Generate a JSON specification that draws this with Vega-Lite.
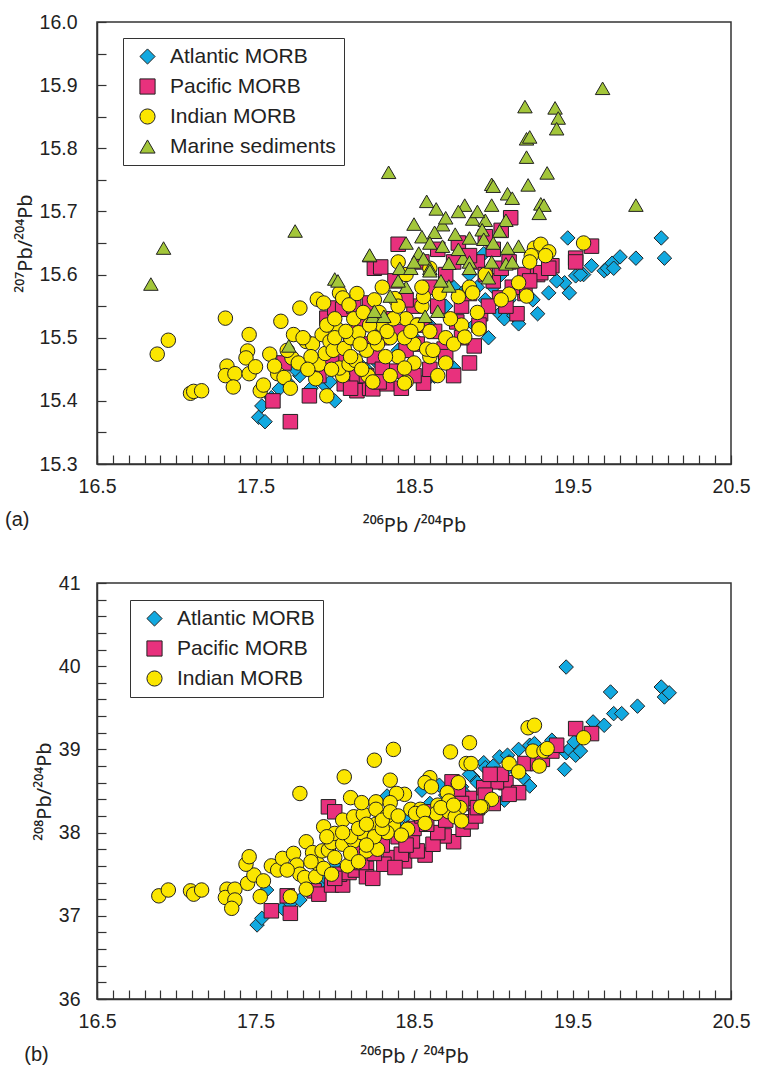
{
"$schema": "https://vega.github.io/schema/vega-lite/v6.json",
"padding": {"left": 4, "top": 11, "right": 5, "bottom": 3},
"config": {
  "font": "Liberation Sans",
  "view": {"stroke": "#333", "strokeWidth": 1.5},
  "axis": {"domainColor": "#333", "domainWidth": 1.5, "tickColor": "#333", "tickWidth": 1.2, "ticks": true, "tickSize": -9, "labelColor": "#222", "titleColor": "#222", "labelFontSize": 19.5, "titleFontSize": 20, "titleFont": "Noto Sans", "titleFontWeight": "normal", "grid": false, "labelOverlap": false, "labelBound": false, "labelFlush": false},
  "legend": {"strokeColor": "#333", "fillColor": "white", "padding": 8, "symbolSize": 230, "labelFontSize": 21, "labelColor": "#222", "labelLimit": 400, "rowPadding": 8, "symbolStrokeColor": "#222", "symbolStrokeWidth": 1, "symbolOpacity": 1, "labelOffset": 12, "symbolOffset": 6}
},
"spacing": 35,
"resolve": {"scale": {"color": "independent", "shape": "independent"}},
"datasets": {
"a": [
{"group":"Atlantic MORB","x":17.52,"y":15.374},{"group":"Atlantic MORB","x":17.56,"y":15.367},{"group":"Atlantic MORB","x":17.54,"y":15.392},{"group":"Atlantic MORB","x":17.65,"y":15.419},{"group":"Atlantic MORB","x":17.6,"y":15.405},{"group":"Atlantic MORB","x":17.7,"y":15.43},{"group":"Atlantic MORB","x":17.78,"y":15.44},{"group":"Atlantic MORB","x":17.85,"y":15.42},{"group":"Atlantic MORB","x":17.94,"y":15.424},{"group":"Atlantic MORB","x":17.97,"y":15.43},{"group":"Atlantic MORB","x":18.0,"y":15.40},{"group":"Atlantic MORB","x":18.05,"y":15.44},{"group":"Atlantic MORB","x":18.12,"y":15.43},{"group":"Atlantic MORB","x":18.2,"y":15.45},{"group":"Atlantic MORB","x":18.27,"y":15.46},{"group":"Atlantic MORB","x":18.33,"y":15.47},{"group":"Atlantic MORB","x":18.4,"y":15.48},{"group":"Atlantic MORB","x":18.5,"y":15.5},{"group":"Atlantic MORB","x":18.57,"y":15.43},{"group":"Atlantic MORB","x":18.63,"y":15.439},{"group":"Atlantic MORB","x":18.75,"y":15.452},{"group":"Atlantic MORB","x":18.6,"y":15.52},{"group":"Atlantic MORB","x":18.7,"y":15.55},{"group":"Atlantic MORB","x":18.8,"y":15.57},{"group":"Atlantic MORB","x":18.85,"y":15.6},{"group":"Atlantic MORB","x":18.9,"y":15.58},{"group":"Atlantic MORB","x":18.94,"y":15.633},{"group":"Atlantic MORB","x":18.97,"y":15.50},{"group":"Atlantic MORB","x":19.0,"y":15.58},{"group":"Atlantic MORB","x":19.04,"y":15.538},{"group":"Atlantic MORB","x":19.07,"y":15.53},{"group":"Atlantic MORB","x":19.1,"y":15.56},{"group":"Atlantic MORB","x":19.13,"y":15.535},{"group":"Atlantic MORB","x":19.16,"y":15.522},{"group":"Atlantic MORB","x":19.2,"y":15.58},{"group":"Atlantic MORB","x":19.28,"y":15.538},{"group":"Atlantic MORB","x":19.3,"y":15.6},{"group":"Atlantic MORB","x":19.35,"y":15.571},{"group":"Atlantic MORB","x":19.45,"y":15.587},{"group":"Atlantic MORB","x":19.48,"y":15.571},{"group":"Atlantic MORB","x":19.47,"y":15.658},{"group":"Atlantic MORB","x":19.52,"y":15.598},{"group":"Atlantic MORB","x":19.57,"y":15.60},{"group":"Atlantic MORB","x":19.62,"y":15.614},{"group":"Atlantic MORB","x":19.70,"y":15.606},{"group":"Atlantic MORB","x":19.72,"y":15.61},{"group":"Atlantic MORB","x":19.75,"y":15.618},{"group":"Atlantic MORB","x":19.76,"y":15.61},{"group":"Atlantic MORB","x":19.80,"y":15.628},{"group":"Atlantic MORB","x":19.90,"y":15.626},{"group":"Atlantic MORB","x":20.06,"y":15.658},{"group":"Atlantic MORB","x":20.08,"y":15.626},{"group":"Atlantic MORB","x":19.4,"y":15.59},{"group":"Atlantic MORB","x":19.25,"y":15.56},{"group":"Atlantic MORB","x":18.95,"y":15.56},{"group":"Atlantic MORB","x":18.75,"y":15.58},{"group":"Atlantic MORB","x":18.88,"y":15.52},{"group":"Atlantic MORB","x":19.05,"y":15.6},{"group":"Atlantic MORB","x":19.55,"y":15.6},{"group":"Atlantic MORB","x":18.45,"y":15.45},{"group":"Atlantic MORB","x":18.15,"y":15.46},{"group":"Atlantic MORB","x":17.75,"y":15.45},{"group":"Atlantic MORB","x":18.35,"y":15.44},
{"group":"Pacific MORB","x":17.61,"y":15.40},{"group":"Pacific MORB","x":17.72,"y":15.367},{"group":"Pacific MORB","x":17.84,"y":15.408},{"group":"Pacific MORB","x":17.68,"y":15.46},{"group":"Pacific MORB","x":17.95,"y":15.531},{"group":"Pacific MORB","x":18.0,"y":15.547},{"group":"Pacific MORB","x":18.05,"y":15.545},{"group":"Pacific MORB","x":18.22,"y":15.555},{"group":"Pacific MORB","x":18.06,"y":15.427},{"group":"Pacific MORB","x":18.14,"y":15.416},{"group":"Pacific MORB","x":18.22,"y":15.42},{"group":"Pacific MORB","x":18.14,"y":15.44},{"group":"Pacific MORB","x":18.25,"y":15.61},{"group":"Pacific MORB","x":18.29,"y":15.612},{"group":"Pacific MORB","x":18.40,"y":15.648},{"group":"Pacific MORB","x":19.11,"y":15.69},{"group":"Pacific MORB","x":19.52,"y":15.626},{"group":"Pacific MORB","x":19.62,"y":15.645},{"group":"Pacific MORB","x":19.37,"y":15.614},{"group":"Pacific MORB","x":19.20,"y":15.60},{"group":"Pacific MORB","x":19.28,"y":15.60},{"group":"Pacific MORB","x":18.75,"y":15.44},{"group":"Pacific MORB","x":18.56,"y":15.428},{"group":"Pacific MORB","x":18.24,"y":15.419},{"group":"Pacific MORB","x":18.69,"y":15.482},{"group":"Pacific MORB","x":18.88,"y":15.487},{"group":"Pacific MORB","x":19.15,"y":15.538},{"group":"Pacific MORB","x":19.2,"y":15.57},{"group":"Pacific MORB","x":19.30,"y":15.603},{"group":"Pacific MORB","x":19.35,"y":15.61},{"group":"Pacific MORB","x":19.52,"y":15.62},{"group":"Pacific MORB","x":18.92,"y":15.538},{"group":"Pacific MORB","x":18.52,"y":15.49},{"group":"Pacific MORB","x":18.39,"y":15.447},{"group":"Pacific MORB","x":18.33,"y":15.427},{"group":"Pacific MORB","x":18.63,"y":15.51},{"group":"Pacific MORB","x":18.77,"y":15.525},{"group":"Pacific MORB","x":18.91,"y":15.52},{"group":"Pacific MORB","x":19.04,"y":15.563},{"group":"Pacific MORB","x":19.12,"y":15.58},{"group":"Pacific MORB","x":19.23,"y":15.59},{"group":"Pacific MORB","x":19.0,"y":15.59},{"group":"Pacific MORB","x":18.05,"y":15.47},{"group":"Pacific MORB","x":18.1,"y":15.5},{"group":"Pacific MORB","x":18.15,"y":15.52},{"group":"Pacific MORB","x":18.2,"y":15.49},{"group":"Pacific MORB","x":18.25,"y":15.47},{"group":"Pacific MORB","x":18.3,"y":15.5},{"group":"Pacific MORB","x":18.35,"y":15.53},{"group":"Pacific MORB","x":18.4,"y":15.51},{"group":"Pacific MORB","x":18.45,"y":15.48},{"group":"Pacific MORB","x":18.5,"y":15.55},{"group":"Pacific MORB","x":18.55,"y":15.52},{"group":"Pacific MORB","x":18.6,"y":15.58},{"group":"Pacific MORB","x":18.65,"y":15.55},{"group":"Pacific MORB","x":18.7,"y":15.6},{"group":"Pacific MORB","x":18.75,"y":15.62},{"group":"Pacific MORB","x":18.8,"y":15.55},{"group":"Pacific MORB","x":18.85,"y":15.57},{"group":"Pacific MORB","x":18.9,"y":15.62},{"group":"Pacific MORB","x":18.95,"y":15.6},{"group":"Pacific MORB","x":19.0,"y":15.64},{"group":"Pacific MORB","x":19.05,"y":15.61},{"group":"Pacific MORB","x":19.1,"y":15.62},{"group":"Pacific MORB","x":18.3,"y":15.45},{"group":"Pacific MORB","x":18.45,"y":15.56},{"group":"Pacific MORB","x":18.6,"y":15.45},{"group":"Pacific MORB","x":18.7,"y":15.47},{"group":"Pacific MORB","x":18.8,"y":15.5},{"group":"Pacific MORB","x":18.85,"y":15.46},{"group":"Pacific MORB","x":18.97,"y":15.55},{"group":"Pacific MORB","x":19.08,"y":15.55},{"group":"Pacific MORB","x":18.2,"y":15.44},{"group":"Pacific MORB","x":17.9,"y":15.44},{"group":"Pacific MORB","x":17.98,"y":15.46},{"group":"Pacific MORB","x":18.1,"y":15.42},{"group":"Pacific MORB","x":18.28,"y":15.43},{"group":"Pacific MORB","x":18.5,"y":15.44},{"group":"Pacific MORB","x":18.42,"y":15.42},{"group":"Pacific MORB","x":18.38,"y":15.59},{"group":"Pacific MORB","x":18.55,"y":15.62},{"group":"Pacific MORB","x":18.65,"y":15.64},{"group":"Pacific MORB","x":18.78,"y":15.65},{"group":"Pacific MORB","x":18.85,"y":15.63},{"group":"Pacific MORB","x":18.95,"y":15.66},{"group":"Pacific MORB","x":19.05,"y":15.67},{"group":"Pacific MORB","x":18.12,"y":15.55},
{"group":"Indian MORB","x":16.88,"y":15.474},{"group":"Indian MORB","x":16.95,"y":15.496},{"group":"Indian MORB","x":17.09,"y":15.412},{"group":"Indian MORB","x":17.11,"y":15.415},{"group":"Indian MORB","x":17.16,"y":15.416},{"group":"Indian MORB","x":17.31,"y":15.531},{"group":"Indian MORB","x":17.32,"y":15.455},{"group":"Indian MORB","x":17.31,"y":15.44},{"group":"Indian MORB","x":17.37,"y":15.443},{"group":"Indian MORB","x":17.36,"y":15.422},{"group":"Indian MORB","x":17.46,"y":15.505},{"group":"Indian MORB","x":17.45,"y":15.479},{"group":"Indian MORB","x":17.44,"y":15.468},{"group":"Indian MORB","x":17.46,"y":15.443},{"group":"Indian MORB","x":17.5,"y":15.454},{"group":"Indian MORB","x":17.53,"y":15.416},{"group":"Indian MORB","x":17.55,"y":15.425},{"group":"Indian MORB","x":17.59,"y":15.474},{"group":"Indian MORB","x":17.64,"y":15.443},{"group":"Indian MORB","x":17.68,"y":15.437},{"group":"Indian MORB","x":17.66,"y":15.526},{"group":"Indian MORB","x":17.72,"y":15.42},{"group":"Indian MORB","x":17.74,"y":15.505},{"group":"Indian MORB","x":17.78,"y":15.547},{"group":"Indian MORB","x":17.73,"y":15.468},{"group":"Indian MORB","x":17.77,"y":15.46},{"group":"Indian MORB","x":17.82,"y":15.494},{"group":"Indian MORB","x":17.86,"y":15.49},{"group":"Indian MORB","x":17.89,"y":15.561},{"group":"Indian MORB","x":17.93,"y":15.555},{"group":"Indian MORB","x":17.95,"y":15.408},{"group":"Indian MORB","x":17.88,"y":15.435},{"group":"Indian MORB","x":17.90,"y":15.458},{"group":"Indian MORB","x":17.94,"y":15.475},{"group":"Indian MORB","x":17.92,"y":15.505},{"group":"Indian MORB","x":17.97,"y":15.494},{"group":"Indian MORB","x":18.01,"y":15.515},{"group":"Indian MORB","x":17.99,"y":15.48},{"group":"Indian MORB","x":18.03,"y":15.571},{"group":"Indian MORB","x":18.05,"y":15.563},{"group":"Indian MORB","x":18.09,"y":15.552},{"group":"Indian MORB","x":18.12,"y":15.53},{"group":"Indian MORB","x":18.06,"y":15.483},{"group":"Indian MORB","x":18.05,"y":15.44},{"group":"Indian MORB","x":18.1,"y":15.5},{"group":"Indian MORB","x":18.15,"y":15.508},{"group":"Indian MORB","x":18.03,"y":15.452},{"group":"Indian MORB","x":18.09,"y":15.458},{"group":"Indian MORB","x":18.13,"y":15.464},{"group":"Indian MORB","x":18.2,"y":15.48},{"group":"Indian MORB","x":18.21,"y":15.44},{"group":"Indian MORB","x":18.25,"y":15.56},{"group":"Indian MORB","x":18.3,"y":15.52},{"group":"Indian MORB","x":18.35,"y":15.5},{"group":"Indian MORB","x":18.4,"y":15.47},{"group":"Indian MORB","x":18.45,"y":15.53},{"group":"Indian MORB","x":18.5,"y":15.49},{"group":"Indian MORB","x":18.55,"y":15.55},{"group":"Indian MORB","x":18.6,"y":15.51},{"group":"Indian MORB","x":18.7,"y":15.5},{"group":"Indian MORB","x":18.8,"y":15.52},{"group":"Indian MORB","x":18.85,"y":15.58},{"group":"Indian MORB","x":18.9,"y":15.54},{"group":"Indian MORB","x":18.35,"y":15.44},{"group":"Indian MORB","x":18.45,"y":15.43},{"group":"Indian MORB","x":18.5,"y":15.46},{"group":"Indian MORB","x":18.6,"y":15.47},{"group":"Indian MORB","x":18.7,"y":15.46},{"group":"Indian MORB","x":18.65,"y":15.44},{"group":"Indian MORB","x":18.3,"y":15.58},{"group":"Indian MORB","x":18.45,"y":15.6},{"group":"Indian MORB","x":18.44,"y":15.452},{"group":"Indian MORB","x":18.44,"y":15.428},{"group":"Indian MORB","x":18.24,"y":15.43},{"group":"Indian MORB","x":18.58,"y":15.482},{"group":"Indian MORB","x":18.62,"y":15.48},{"group":"Indian MORB","x":18.75,"y":15.49},{"group":"Indian MORB","x":18.82,"y":15.501},{"group":"Indian MORB","x":18.91,"y":15.514},{"group":"Indian MORB","x":18.73,"y":15.53},{"group":"Indian MORB","x":18.87,"y":15.571},{"group":"Indian MORB","x":19.1,"y":15.569},{"group":"Indian MORB","x":19.21,"y":15.566},{"group":"Indian MORB","x":19.16,"y":15.587},{"group":"Indian MORB","x":18.52,"y":15.52},{"group":"Indian MORB","x":18.44,"y":15.5},{"group":"Indian MORB","x":18.33,"y":15.51},{"group":"Indian MORB","x":18.38,"y":15.562},{"group":"Indian MORB","x":18.56,"y":15.565},{"group":"Indian MORB","x":18.66,"y":15.57},{"group":"Indian MORB","x":18.78,"y":15.565},{"group":"Indian MORB","x":19.26,"y":15.642},{"group":"Indian MORB","x":19.3,"y":15.648},{"group":"Indian MORB","x":19.35,"y":15.636},{"group":"Indian MORB","x":19.33,"y":15.63},{"group":"Indian MORB","x":19.24,"y":15.63},{"group":"Indian MORB","x":19.23,"y":15.62},{"group":"Indian MORB","x":19.57,"y":15.65},{"group":"Indian MORB","x":17.8,"y":15.5},{"group":"Indian MORB","x":17.85,"y":15.47},{"group":"Indian MORB","x":17.95,"y":15.52},{"group":"Indian MORB","x":18.0,"y":15.5},{"group":"Indian MORB","x":18.07,"y":15.51},{"group":"Indian MORB","x":18.16,"y":15.49},{"group":"Indian MORB","x":18.18,"y":15.54},{"group":"Indian MORB","x":18.22,"y":15.52},{"group":"Indian MORB","x":18.27,"y":15.49},{"group":"Indian MORB","x":18.28,"y":15.54},{"group":"Indian MORB","x":18.1,"y":15.47},{"group":"Indian MORB","x":18.17,"y":15.45},{"group":"Indian MORB","x":17.98,"y":15.45},{"group":"Indian MORB","x":18.32,"y":15.47},{"group":"Indian MORB","x":18.37,"y":15.53},{"group":"Indian MORB","x":18.4,"y":15.55},{"group":"Indian MORB","x":18.48,"y":15.51},{"group":"Indian MORB","x":18.25,"y":15.5},{"group":"Indian MORB","x":18.0,"y":15.53},{"group":"Indian MORB","x":18.14,"y":15.57},{"group":"Indian MORB","x":17.7,"y":15.48},{"group":"Indian MORB","x":17.62,"y":15.455},{"group":"Indian MORB","x":17.83,"y":15.45},{"group":"Indian MORB","x":18.55,"y":15.58},{"group":"Indian MORB","x":18.6,"y":15.61},{"group":"Indian MORB","x":18.4,"y":15.62},{"group":"Indian MORB","x":18.95,"y":15.6},{"group":"Indian MORB","x":19.05,"y":15.56},
{"group":"Marine sediments","x":16.84,"y":15.585},{"group":"Marine sediments","x":16.92,"y":15.642},{"group":"Marine sediments","x":17.75,"y":15.669},{"group":"Marine sediments","x":18.22,"y":15.63},{"group":"Marine sediments","x":18.0,"y":15.593},{"group":"Marine sediments","x":18.02,"y":15.59},{"group":"Marine sediments","x":17.71,"y":15.487},{"group":"Marine sediments","x":18.24,"y":15.534},{"group":"Marine sediments","x":19.69,"y":15.895},{"group":"Marine sediments","x":19.20,"y":15.866},{"group":"Marine sediments","x":19.39,"y":15.864},{"group":"Marine sediments","x":19.41,"y":15.848},{"group":"Marine sediments","x":19.40,"y":15.831},{"group":"Marine sediments","x":19.21,"y":15.815},{"group":"Marine sediments","x":19.23,"y":15.818},{"group":"Marine sediments","x":19.21,"y":15.786},{"group":"Marine sediments","x":18.34,"y":15.762},{"group":"Marine sediments","x":19.34,"y":15.761},{"group":"Marine sediments","x":18.99,"y":15.743},{"group":"Marine sediments","x":19.0,"y":15.74},{"group":"Marine sediments","x":19.22,"y":15.742},{"group":"Marine sediments","x":19.09,"y":15.728},{"group":"Marine sediments","x":19.12,"y":15.721},{"group":"Marine sediments","x":19.90,"y":15.71},{"group":"Marine sediments","x":18.58,"y":15.716},{"group":"Marine sediments","x":18.64,"y":15.704},{"group":"Marine sediments","x":18.82,"y":15.71},{"group":"Marine sediments","x":18.99,"y":15.71},{"group":"Marine sediments","x":19.30,"y":15.712},{"group":"Marine sediments","x":19.32,"y":15.71},{"group":"Marine sediments","x":19.29,"y":15.697},{"group":"Marine sediments","x":18.68,"y":15.679},{"group":"Marine sediments","x":18.63,"y":15.667},{"group":"Marine sediments","x":18.76,"y":15.664},{"group":"Marine sediments","x":18.87,"y":15.688},{"group":"Marine sediments","x":18.95,"y":15.686},{"group":"Marine sediments","x":19.08,"y":15.686},{"group":"Marine sediments","x":18.93,"y":15.671},{"group":"Marine sediments","x":18.85,"y":15.658},{"group":"Marine sediments","x":19.04,"y":15.669},{"group":"Marine sediments","x":19.16,"y":15.645},{"group":"Marine sediments","x":19.09,"y":15.642},{"group":"Marine sediments","x":18.94,"y":15.656},{"group":"Marine sediments","x":18.68,"y":15.645},{"group":"Marine sediments","x":18.53,"y":15.634},{"group":"Marine sediments","x":18.22,"y":15.631},{"group":"Marine sediments","x":18.41,"y":15.61},{"group":"Marine sediments","x":18.48,"y":15.61},{"group":"Marine sediments","x":18.56,"y":15.625},{"group":"Marine sediments","x":18.60,"y":15.61},{"group":"Marine sediments","x":18.72,"y":15.618},{"group":"Marine sediments","x":18.81,"y":15.626},{"group":"Marine sediments","x":18.85,"y":15.62},{"group":"Marine sediments","x":18.99,"y":15.62},{"group":"Marine sediments","x":19.08,"y":15.617},{"group":"Marine sediments","x":19.12,"y":15.62},{"group":"Marine sediments","x":18.35,"y":15.566},{"group":"Marine sediments","x":18.6,"y":15.606},{"group":"Marine sediments","x":18.72,"y":15.582},{"group":"Marine sediments","x":18.67,"y":15.59},{"group":"Marine sediments","x":18.57,"y":15.534},{"group":"Marine sediments","x":18.65,"y":15.542},{"group":"Marine sediments","x":18.31,"y":15.534},{"group":"Marine sediments","x":18.25,"y":15.542},{"group":"Marine sediments","x":18.97,"y":15.595},{"group":"Marine sediments","x":18.85,"y":15.61},{"group":"Marine sediments","x":18.45,"y":15.65},{"group":"Marine sediments","x":18.5,"y":15.68},{"group":"Marine sediments","x":18.55,"y":15.66},{"group":"Marine sediments","x":18.6,"y":15.65},{"group":"Marine sediments","x":18.7,"y":15.69},{"group":"Marine sediments","x":18.78,"y":15.70},{"group":"Marine sediments","x":18.9,"y":15.7},{"group":"Marine sediments","x":18.45,"y":15.58},{"group":"Marine sediments","x":18.5,"y":15.62},{"group":"Marine sediments","x":18.4,"y":15.59},{"group":"Marine sediments","x":18.78,"y":15.64},{"group":"Marine sediments","x":19.0,"y":15.65}
],
"b": [
{"group":"Atlantic MORB","x":17.51,"y":36.89},{"group":"Atlantic MORB","x":17.54,"y":36.97},{"group":"Atlantic MORB","x":17.57,"y":37.31},{"group":"Atlantic MORB","x":17.67,"y":37.09},{"group":"Atlantic MORB","x":17.72,"y":37.15},{"group":"Atlantic MORB","x":17.78,"y":37.19},{"group":"Atlantic MORB","x":17.85,"y":37.31},{"group":"Atlantic MORB","x":17.92,"y":37.42},{"group":"Atlantic MORB","x":17.94,"y":37.46},{"group":"Atlantic MORB","x":18.0,"y":37.6},{"group":"Atlantic MORB","x":18.05,"y":37.55},{"group":"Atlantic MORB","x":18.1,"y":37.75},{"group":"Atlantic MORB","x":18.2,"y":37.85},{"group":"Atlantic MORB","x":18.25,"y":37.8},{"group":"Atlantic MORB","x":18.3,"y":38.0},{"group":"Atlantic MORB","x":18.33,"y":38.44},{"group":"Atlantic MORB","x":18.34,"y":38.15},{"group":"Atlantic MORB","x":18.4,"y":38.1},{"group":"Atlantic MORB","x":18.45,"y":38.2},{"group":"Atlantic MORB","x":18.5,"y":38.25},{"group":"Atlantic MORB","x":18.55,"y":38.51},{"group":"Atlantic MORB","x":18.6,"y":38.35},{"group":"Atlantic MORB","x":18.66,"y":38.57},{"group":"Atlantic MORB","x":18.7,"y":38.45},{"group":"Atlantic MORB","x":18.75,"y":38.4},{"group":"Atlantic MORB","x":18.8,"y":38.55},{"group":"Atlantic MORB","x":18.82,"y":38.47},{"group":"Atlantic MORB","x":18.87,"y":38.67},{"group":"Atlantic MORB","x":18.9,"y":38.6},{"group":"Atlantic MORB","x":18.94,"y":38.84},{"group":"Atlantic MORB","x":18.95,"y":38.78},{"group":"Atlantic MORB","x":19.0,"y":38.8},{"group":"Atlantic MORB","x":19.04,"y":38.91},{"group":"Atlantic MORB","x":19.07,"y":38.73},{"group":"Atlantic MORB","x":19.07,"y":38.39},{"group":"Atlantic MORB","x":19.09,"y":38.93},{"group":"Atlantic MORB","x":19.1,"y":38.85},{"group":"Atlantic MORB","x":19.16,"y":39.0},{"group":"Atlantic MORB","x":19.19,"y":38.66},{"group":"Atlantic MORB","x":19.23,"y":39.05},{"group":"Atlantic MORB","x":19.23,"y":38.56},{"group":"Atlantic MORB","x":19.26,"y":39.07},{"group":"Atlantic MORB","x":19.37,"y":39.11},{"group":"Atlantic MORB","x":19.45,"y":38.76},{"group":"Atlantic MORB","x":19.46,"y":38.96},{"group":"Atlantic MORB","x":19.48,"y":39.0},{"group":"Atlantic MORB","x":19.51,"y":39.09},{"group":"Atlantic MORB","x":19.52,"y":38.93},{"group":"Atlantic MORB","x":19.55,"y":38.98},{"group":"Atlantic MORB","x":19.46,"y":39.99},{"group":"Atlantic MORB","x":19.63,"y":39.33},{"group":"Atlantic MORB","x":19.70,"y":39.29},{"group":"Atlantic MORB","x":19.74,"y":39.69},{"group":"Atlantic MORB","x":19.76,"y":39.43},{"group":"Atlantic MORB","x":19.81,"y":39.43},{"group":"Atlantic MORB","x":19.91,"y":39.52},{"group":"Atlantic MORB","x":20.06,"y":39.75},{"group":"Atlantic MORB","x":20.08,"y":39.63},{"group":"Atlantic MORB","x":20.11,"y":39.68},{"group":"Atlantic MORB","x":18.15,"y":37.9},{"group":"Atlantic MORB","x":18.85,"y":38.7},{"group":"Atlantic MORB","x":18.65,"y":38.3},
{"group":"Pacific MORB","x":17.6,"y":37.06},{"group":"Pacific MORB","x":17.72,"y":37.03},{"group":"Pacific MORB","x":17.7,"y":37.24},{"group":"Pacific MORB","x":17.96,"y":38.31},{"group":"Pacific MORB","x":18.0,"y":38.25},{"group":"Pacific MORB","x":17.87,"y":37.3},{"group":"Pacific MORB","x":17.9,"y":37.26},{"group":"Pacific MORB","x":17.98,"y":37.37},{"group":"Pacific MORB","x":18.05,"y":37.37},{"group":"Pacific MORB","x":18.03,"y":37.5},{"group":"Pacific MORB","x":18.09,"y":37.52},{"group":"Pacific MORB","x":18.13,"y":37.55},{"group":"Pacific MORB","x":18.11,"y":37.67},{"group":"Pacific MORB","x":18.2,"y":37.57},{"group":"Pacific MORB","x":18.2,"y":37.47},{"group":"Pacific MORB","x":18.17,"y":37.64},{"group":"Pacific MORB","x":18.24,"y":37.45},{"group":"Pacific MORB","x":18.57,"y":37.73},{"group":"Pacific MORB","x":18.44,"y":37.66},{"group":"Pacific MORB","x":18.52,"y":37.78},{"group":"Pacific MORB","x":18.75,"y":37.89},{"group":"Pacific MORB","x":18.69,"y":37.96},{"group":"Pacific MORB","x":18.81,"y":38.04},{"group":"Pacific MORB","x":18.86,"y":38.13},{"group":"Pacific MORB","x":18.35,"y":37.7},{"group":"Pacific MORB","x":18.42,"y":37.74},{"group":"Pacific MORB","x":18.62,"y":37.86},{"group":"Pacific MORB","x":18.31,"y":37.62},{"group":"Pacific MORB","x":18.38,"y":37.58},{"group":"Pacific MORB","x":18.49,"y":37.9},{"group":"Pacific MORB","x":18.89,"y":38.2},{"group":"Pacific MORB","x":19.52,"y":39.25},{"group":"Pacific MORB","x":19.62,"y":39.19},{"group":"Pacific MORB","x":19.08,"y":38.6},{"group":"Pacific MORB","x":19.16,"y":38.48},{"group":"Pacific MORB","x":19.1,"y":38.46},{"group":"Pacific MORB","x":19.2,"y":38.83},{"group":"Pacific MORB","x":19.28,"y":38.83},{"group":"Pacific MORB","x":19.31,"y":38.88},{"group":"Pacific MORB","x":19.37,"y":38.98},{"group":"Pacific MORB","x":19.02,"y":38.61},{"group":"Pacific MORB","x":18.94,"y":38.54},{"group":"Pacific MORB","x":18.85,"y":38.41},{"group":"Pacific MORB","x":18.74,"y":38.61},{"group":"Pacific MORB","x":18.78,"y":38.52},{"group":"Pacific MORB","x":18.3,"y":37.85},{"group":"Pacific MORB","x":18.4,"y":37.95},{"group":"Pacific MORB","x":18.5,"y":38.05},{"group":"Pacific MORB","x":18.55,"y":38.2},{"group":"Pacific MORB","x":18.6,"y":38.25},{"group":"Pacific MORB","x":18.7,"y":38.3},{"group":"Pacific MORB","x":18.8,"y":38.35},{"group":"Pacific MORB","x":18.9,"y":38.3},{"group":"Pacific MORB","x":18.65,"y":38.0},{"group":"Pacific MORB","x":18.0,"y":37.45},{"group":"Pacific MORB","x":18.45,"y":37.85},{"group":"Pacific MORB","x":18.7,"y":38.15},{"group":"Pacific MORB","x":18.95,"y":38.45},{"group":"Pacific MORB","x":19.0,"y":38.35},{"group":"Pacific MORB","x":18.58,"y":38.1},{"group":"Pacific MORB","x":18.25,"y":37.75},{"group":"Pacific MORB","x":18.15,"y":37.8},{"group":"Pacific MORB","x":19.05,"y":38.7},{"group":"Pacific MORB","x":19.4,"y":39.05},{"group":"Pacific MORB","x":18.98,"y":38.7},
{"group":"Indian MORB","x":16.89,"y":37.24},{"group":"Indian MORB","x":16.95,"y":37.31},{"group":"Indian MORB","x":17.09,"y":37.3},{"group":"Indian MORB","x":17.11,"y":37.26},{"group":"Indian MORB","x":17.16,"y":37.31},{"group":"Indian MORB","x":17.32,"y":37.32},{"group":"Indian MORB","x":17.31,"y":37.22},{"group":"Indian MORB","x":17.37,"y":37.32},{"group":"Indian MORB","x":17.37,"y":37.19},{"group":"Indian MORB","x":17.35,"y":37.09},{"group":"Indian MORB","x":17.45,"y":37.39},{"group":"Indian MORB","x":17.49,"y":37.49},{"group":"Indian MORB","x":17.44,"y":37.62},{"group":"Indian MORB","x":17.46,"y":37.71},{"group":"Indian MORB","x":17.55,"y":37.42},{"group":"Indian MORB","x":17.53,"y":37.23},{"group":"Indian MORB","x":17.6,"y":37.6},{"group":"Indian MORB","x":17.64,"y":37.55},{"group":"Indian MORB","x":17.67,"y":37.69},{"group":"Indian MORB","x":17.72,"y":37.23},{"group":"Indian MORB","x":17.74,"y":37.75},{"group":"Indian MORB","x":17.76,"y":37.61},{"group":"Indian MORB","x":17.78,"y":37.5},{"group":"Indian MORB","x":17.82,"y":37.89},{"group":"Indian MORB","x":17.81,"y":37.46},{"group":"Indian MORB","x":17.82,"y":37.32},{"group":"Indian MORB","x":17.88,"y":37.47},{"group":"Indian MORB","x":17.89,"y":37.63},{"group":"Indian MORB","x":17.93,"y":37.57},{"group":"Indian MORB","x":17.86,"y":37.76},{"group":"Indian MORB","x":17.92,"y":37.78},{"group":"Indian MORB","x":17.93,"y":38.07},{"group":"Indian MORB","x":17.96,"y":37.79},{"group":"Indian MORB","x":17.98,"y":37.88},{"group":"Indian MORB","x":18.0,"y":37.99},{"group":"Indian MORB","x":18.05,"y":38.15},{"group":"Indian MORB","x":18.08,"y":37.6},{"group":"Indian MORB","x":18.12,"y":38.19},{"group":"Indian MORB","x":18.05,"y":37.86},{"group":"Indian MORB","x":18.12,"y":37.9},{"group":"Indian MORB","x":18.17,"y":38.0},{"group":"Indian MORB","x":18.18,"y":38.22},{"group":"Indian MORB","x":18.2,"y":37.78},{"group":"Indian MORB","x":17.78,"y":38.47},{"group":"Indian MORB","x":18.06,"y":38.67},{"group":"Indian MORB","x":18.1,"y":38.42},{"group":"Indian MORB","x":18.17,"y":38.36},{"group":"Indian MORB","x":18.25,"y":38.87},{"group":"Indian MORB","x":18.37,"y":39.0},{"group":"Indian MORB","x":18.35,"y":38.63},{"group":"Indian MORB","x":18.73,"y":38.97},{"group":"Indian MORB","x":18.85,"y":39.08},{"group":"Indian MORB","x":18.83,"y":38.83},{"group":"Indian MORB","x":18.86,"y":38.83},{"group":"Indian MORB","x":19.22,"y":39.26},{"group":"Indian MORB","x":19.26,"y":39.29},{"group":"Indian MORB","x":19.25,"y":38.98},{"group":"Indian MORB","x":19.32,"y":38.98},{"group":"Indian MORB","x":19.34,"y":39.01},{"group":"Indian MORB","x":19.29,"y":38.8},{"group":"Indian MORB","x":19.1,"y":38.83},{"group":"Indian MORB","x":19.16,"y":38.73},{"group":"Indian MORB","x":19.57,"y":39.14},{"group":"Indian MORB","x":18.99,"y":38.4},{"group":"Indian MORB","x":18.93,"y":38.31},{"group":"Indian MORB","x":18.78,"y":38.6},{"group":"Indian MORB","x":18.6,"y":38.66},{"group":"Indian MORB","x":18.57,"y":38.6},{"group":"Indian MORB","x":18.61,"y":38.55},{"group":"Indian MORB","x":18.44,"y":38.46},{"group":"Indian MORB","x":18.39,"y":38.47},{"group":"Indian MORB","x":18.26,"y":38.37},{"group":"Indian MORB","x":18.35,"y":38.36},{"group":"Indian MORB","x":18.48,"y":38.28},{"group":"Indian MORB","x":18.54,"y":38.28},{"group":"Indian MORB","x":18.65,"y":38.33},{"group":"Indian MORB","x":18.71,"y":38.48},{"group":"Indian MORB","x":18.72,"y":38.38},{"group":"Indian MORB","x":18.79,"y":38.3},{"group":"Indian MORB","x":18.64,"y":38.23},{"group":"Indian MORB","x":18.72,"y":38.25},{"group":"Indian MORB","x":18.51,"y":38.23},{"group":"Indian MORB","x":18.56,"y":38.25},{"group":"Indian MORB","x":18.57,"y":38.11},{"group":"Indian MORB","x":18.67,"y":38.3},{"group":"Indian MORB","x":18.76,"y":38.19},{"group":"Indian MORB","x":18.8,"y":38.14},{"group":"Indian MORB","x":18.75,"y":38.33},{"group":"Indian MORB","x":18.92,"y":38.31},{"group":"Indian MORB","x":18.37,"y":38.09},{"group":"Indian MORB","x":18.46,"y":38.04},{"group":"Indian MORB","x":18.42,"y":37.97},{"group":"Indian MORB","x":18.33,"y":38.0},{"group":"Indian MORB","x":18.27,"y":37.8},{"group":"Indian MORB","x":18.26,"y":38.1},{"group":"Indian MORB","x":18.26,"y":38.28},{"group":"Indian MORB","x":18.33,"y":38.2},{"group":"Indian MORB","x":18.0,"y":37.7},{"group":"Indian MORB","x":18.1,"y":37.95},{"group":"Indian MORB","x":18.15,"y":38.05},{"group":"Indian MORB","x":18.2,"y":38.1},{"group":"Indian MORB","x":18.25,"y":37.95},{"group":"Indian MORB","x":18.3,"y":38.05},{"group":"Indian MORB","x":18.1,"y":37.75},{"group":"Indian MORB","x":18.2,"y":37.85},{"group":"Indian MORB","x":18.3,"y":38.15},{"group":"Indian MORB","x":18.05,"y":38.0},{"group":"Indian MORB","x":17.95,"y":37.95},{"group":"Indian MORB","x":18.35,"y":38.25},{"group":"Indian MORB","x":18.4,"y":38.2},{"group":"Indian MORB","x":18.15,"y":37.65},{"group":"Indian MORB","x":17.7,"y":37.55},{"group":"Indian MORB","x":17.85,"y":37.65},{"group":"Indian MORB","x":17.98,"y":37.5}
]
},
"vconcat": [
{
  "width": 634, "height": 442,
  "data": {"name": "a"},
  "title": {"text": "(a)", "orient": "bottom", "anchor": "start", "frame": "bounds", "fontSize": 20, "fontWeight": "normal", "color": "#222", "offset": 0, "dx": -10, "dy": -26},
  "mark": {"type": "point", "filled": true, "size": 210, "stroke": "#222", "strokeWidth": 1, "opacity": 1},
  "encoding": {
    "x": {"field": "x", "type": "quantitative", "scale": {"domain": [16.5, 20.5], "nice": false, "zero": false},
      "axis": {"values": [16.5,16.6,16.7,16.8,16.9,17.0,17.1,17.2,17.3,17.4,17.5,17.6,17.7,17.8,17.9,18.0,18.1,18.2,18.3,18.4,18.5,18.6,18.7,18.8,18.9,19.0,19.1,19.2,19.3,19.4,19.5,19.6,19.7,19.8,19.9,20.0,20.1,20.2,20.3,20.4,20.5],
        "labelExpr": "abs(datum.value % 1 - 0.5) < 0.001 ? format(datum.value, '.1f') : ''",
        "tickSize": -9,
        "encode": {"ticks": {"update": {"y2": {"signal": "abs(datum.value % 1 - 0.5) < 0.001 ? -15 : -9"}}}},
        "labelPadding": 22, "title": "²⁰⁶Pb /²⁰⁴Pb", "titlePadding": 20}},
    "y": {"field": "y", "type": "quantitative", "scale": {"domain": [15.3, 16.0], "nice": false, "zero": false},
      "axis": {"values": [15.3,15.35,15.4,15.45,15.5,15.55,15.6,15.65,15.7,15.75,15.8,15.85,15.9,15.95,16.0],
        "labelExpr": "abs(datum.value*10 - round(datum.value*10)) < 0.01 ? format(datum.value, '.1f') : ''",
        "tickSize": -9,
        "encode": {"ticks": {"update": {"x2": {"signal": "abs(datum.value*10 - round(datum.value*10)) < 0.01 ? 15 : 9"}}}},
        "labelPadding": 29, "title": "²⁰⁷Pb/²⁰⁴Pb", "titlePadding": 4}},
    "color": {"field": "group", "type": "nominal", "scale": {"domain": ["Atlantic MORB", "Pacific MORB", "Indian MORB", "Marine sediments"], "range": ["#12A9E0", "#E8317D", "#FBE600", "#A3C63A"]},
      "legend": {"title": null, "orient": "none", "legendX": 26, "legendY": 16, "symbolStrokeColor": "#222", "symbolStrokeWidth": 1,
        "encode": {"symbols": {"update": {"stroke": {"value": "#222"}, "strokeWidth": {"value": 1}}}}}},
    "shape": {"field": "group", "type": "nominal", "scale": {"domain": ["Atlantic MORB", "Pacific MORB", "Indian MORB", "Marine sediments"], "range": ["diamond", "square", "circle", "triangle-up"]},
      "legend": {"title": null, "orient": "none", "legendX": 26, "legendY": 16, "symbolStrokeColor": "#222", "symbolStrokeWidth": 1,
        "encode": {"symbols": {"update": {"stroke": {"value": "#222"}, "strokeWidth": {"value": 1}}}}}}
  }
},
{
  "width": 634, "height": 416,
  "data": {"name": "b"},
  "title": {"text": "(b)", "orient": "bottom", "anchor": "start", "frame": "bounds", "fontSize": 20, "fontWeight": "normal", "color": "#222", "offset": 0, "dx": -10, "dy": -22},
  "mark": {"type": "point", "filled": true, "size": 210, "stroke": "#222", "strokeWidth": 1, "opacity": 1},
  "encoding": {
    "x": {"field": "x", "type": "quantitative", "scale": {"domain": [16.5, 20.5], "nice": false, "zero": false},
      "axis": {"values": [16.5,16.6,16.7,16.8,16.9,17.0,17.1,17.2,17.3,17.4,17.5,17.6,17.7,17.8,17.9,18.0,18.1,18.2,18.3,18.4,18.5,18.6,18.7,18.8,18.9,19.0,19.1,19.2,19.3,19.4,19.5,19.6,19.7,19.8,19.9,20.0,20.1,20.2,20.3,20.4,20.5],
        "labelExpr": "abs(datum.value % 1 - 0.5) < 0.001 ? format(datum.value, '.1f') : ''",
        "tickSize": -9,
        "encode": {"ticks": {"update": {"y2": {"signal": "abs(datum.value % 1 - 0.5) < 0.001 ? -15 : -9"}}}},
        "labelPadding": 22, "title": "²⁰⁶Pb / ²⁰⁴Pb", "titlePadding": 16}},
    "y": {"field": "y", "type": "quantitative", "scale": {"domain": [36, 41], "nice": false, "zero": false},
      "axis": {"values": [36,36.2,36.4,36.6,36.8,37,37.2,37.4,37.6,37.8,38,38.2,38.4,38.6,38.8,39,39.2,39.4,39.6,39.8,40,40.2,40.4,40.6,40.8,41],
        "labelExpr": "abs(datum.value - round(datum.value)) < 0.01 ? format(datum.value, 'd') : ''",
        "tickSize": -9,
        "encode": {"ticks": {"update": {"x2": {"signal": "abs(datum.value - round(datum.value)) < 0.01 ? 15 : 9"}}}},
        "labelPadding": 26, "title": "²⁰⁸Pb/²⁰⁴Pb", "titlePadding": 4}},
    "color": {"field": "group", "type": "nominal", "scale": {"domain": ["Atlantic MORB", "Pacific MORB", "Indian MORB"], "range": ["#12A9E0", "#E8317D", "#FBE600"]},
      "legend": {"title": null, "orient": "none", "legendX": 33, "legendY": 17, "symbolStrokeColor": "#222", "symbolStrokeWidth": 1,
        "encode": {"symbols": {"update": {"stroke": {"value": "#222"}, "strokeWidth": {"value": 1}}}}}},
    "shape": {"field": "group", "type": "nominal", "scale": {"domain": ["Atlantic MORB", "Pacific MORB", "Indian MORB"], "range": ["diamond", "square", "circle"]},
      "legend": {"title": null, "orient": "none", "legendX": 33, "legendY": 17, "symbolStrokeColor": "#222", "symbolStrokeWidth": 1,
        "encode": {"symbols": {"update": {"stroke": {"value": "#222"}, "strokeWidth": {"value": 1}}}}}}
  }
}
]
}
